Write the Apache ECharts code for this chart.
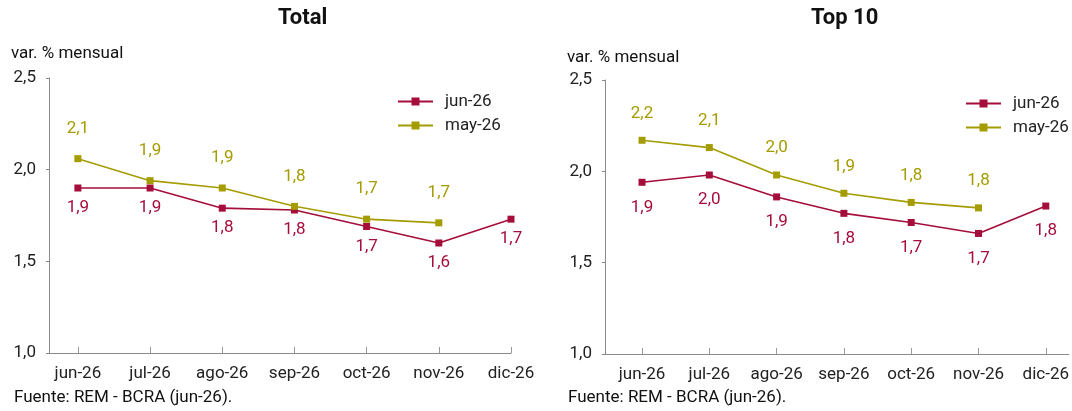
<!DOCTYPE html>
<html lang="es">
<head>
    <meta charset="UTF-8">
    <title>REM - BCRA</title>
    <script src="https://cdn.jsdelivr.net/npm/echarts@6/dist/echarts.min.js"></script>
    <style>
        html, body { margin: 0; padding: 0; background: #fff; }
    </style>
</head>
<body>
    <div id="main" style="width: 1072px;height:411px;"></div>
    <script type="text/javascript">
        // datos
        var categories = ['jun-26', 'jul-26', 'ago-26', 'sep-26', 'oct-26', 'nov-26', 'dic-26'];
        var totalJun = [1.90, 1.90, 1.79, 1.78, 1.69, 1.60, 1.73];
        var totalMay = [2.06, 1.94, 1.90, 1.80, 1.73, 1.71];
        var top10Jun = [1.94, 1.98, 1.86, 1.77, 1.72, 1.66, 1.81];
        var top10May = [2.17, 2.13, 1.98, 1.88, 1.83, 1.80];
        var yMin = 1.0, yMax = 2.5, yStep = 0.5;
        var seriesNames = ['jun-26', 'may-26'];

        var RED = '#a50d3b';
        var OLIVE = '#a49c00';
        var FONT = 'Roboto';
        var tickIdx = categories.map(function (c, i) { return i; });

        function fmt(v) {
            return Number(v).toFixed(1).replace('.', ',');
        }
        function pts(arr) {
            return arr.map(function (v, i) { return [i, v]; });
        }

        function xAxis(gi, min, max) {
            return {
                type: 'value', gridIndex: gi, min: min, max: max,
                splitLine: { show: false },
                axisLine: { onZero: false, lineStyle: { color: '#8a8a8a', width: 1 } },
                axisTick: { customValues: tickIdx, inside: true, length: 6, lineStyle: { color: '#9a9a9a' } },
                axisLabel: {
                    customValues: tickIdx, margin: 12,
                    color: '#222', fontSize: 17, fontFamily: FONT,
                    formatter: function (v) { return categories[Math.round(v)]; }
                }
            };
        }
        function yAxis(gi) {
            return {
                type: 'value', gridIndex: gi, min: yMin, max: yMax, interval: yStep,
                splitLine: { show: false },
                axisLine: { show: true, onZero: false, lineStyle: { color: '#8a8a8a', width: 1 } },
                axisTick: { show: true, length: 3, lineStyle: { color: '#8a8a8a' } },
                axisLabel: { margin: 13, color: '#222', fontSize: 17, fontFamily: FONT, formatter: fmt }
            };
        }
        function line(name, color, data, gi, pos, dist) {
            return {
                name: name, type: 'line', xAxisIndex: gi, yAxisIndex: gi,
                data: pts(data),
                symbol: 'rect', symbolSize: 7,
                lineStyle: { color: color, width: 1.6 },
                itemStyle: { color: color },
                label: {
                    show: true, position: pos, distance: dist,
                    color: color, fontSize: 17, fontFamily: FONT,
                    formatter: function (p) { return fmt(p.value[1]); }
                }
            };
        }
        function legend(left, top) {
            return {
                data: seriesNames, orient: 'vertical', left: left, top: top,
                itemWidth: 35, itemHeight: 10, itemGap: 7,
                textStyle: { color: '#222', fontSize: 17, fontFamily: FONT, padding: [0, 0, 0, 7] }
            };
        }
        function text(t, left, top, size, weight) {
            return {
                text: t, left: left, top: top, padding: 0,
                textStyle: { color: '#111', fontSize: size, fontWeight: weight, fontFamily: FONT }
            };
        }

        var myChart = echarts.init(document.getElementById('main'));
        myChart.setOption({
            animation: false,
            title: [
                text('Total', 278, 7, 22, 'bold'),
                text('Top 10', 811, 7, 22, 'bold'),
                text('var. % mensual', 11, 45, 17, 'normal'),
                text('var. % mensual', 567, 49, 17, 'normal'),
                text('Fuente: REM - BCRA (jun-26).', 14, 389, 17, 'normal'),
                text('Fuente: REM - BCRA (jun-26).', 568, 389, 17, 'normal')
            ],
            legend: [legend(392, 88), legend(960, 90)],
            grid: [
                { left: 49, top: 78, width: 462, height: 275 },
                { left: 605, top: 80, width: 467, height: 274 }
            ],
            xAxis: [xAxis(0, -0.4, 6), xAxis(1, -0.55, 6.34)],
            yAxis: [yAxis(0), yAxis(1)],
            series: [
                line(seriesNames[0], RED, totalJun, 0, 'bottom', 8),
                line(seriesNames[1], OLIVE, totalMay, 0, 'top', 18),
                line(seriesNames[0], RED, top10Jun, 1, 'bottom', 13),
                line(seriesNames[1], OLIVE, top10May, 1, 'top', 15)
            ]
        });
    </script>
</body>
</html>
